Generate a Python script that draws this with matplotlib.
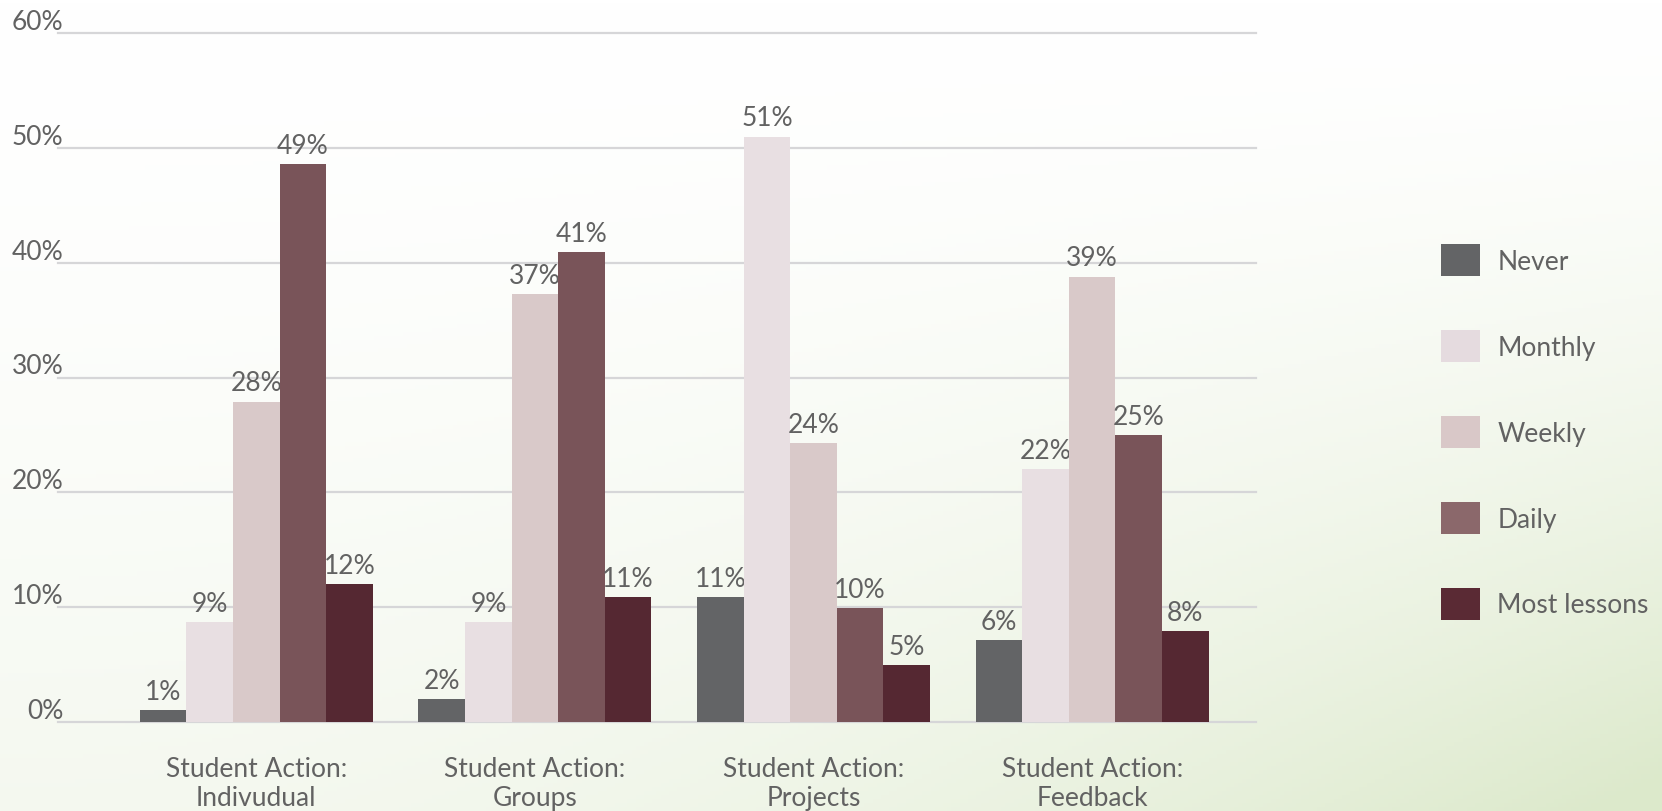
import numpy as np
import matplotlib
matplotlib.use("Agg")
import matplotlib.pyplot as plt
from matplotlib.patches import Patch
from matplotlib.transforms import ScaledTranslation

plt.rcParams['font.family'] = ['Lato', 'DejaVu Sans']

# ---- data ----
categories = ["Student Action:\nIndivudual", "Student Action:\nGroups",
              "Student Action:\nProjects", "Student Action:\nFeedback"]
series = ["Never", "Monthly", "Weekly", "Daily", "Most lessons"]
never = [1.0, 2.0, 10.9, 7.1]
monthly = [8.7, 8.7, 51.0, 22.0]
weekly = [27.9, 37.3, 24.3, 38.8]
daily = [48.6, 40.9, 9.9, 25.0]
most_lessons = [12.0, 10.9, 4.9, 7.9]
value_labels = [
    ["1%", "2%", "11%", "6%"],
    ["9%", "9%", "51%", "22%"],
    ["28%", "37%", "24%", "39%"],
    ["49%", "41%", "10%", "25%"],
    ["12%", "11%", "5%", "8%"],
]
y_ticks = [0, 10, 20, 30, 40, 50, 60]
y_tick_labels = ["0%", "10%", "20%", "30%", "40%", "50%", "60%"]

bar_colors = ["#636466", "#e8dfe2", "#d9c9c9", "#795459", "#552832"]
legend_colors = ["#636466", "#e5dbdf", "#d9c8c8", "#8b686b", "#5a2a34"]
text_color = "#626262"
FS = 19

W, H = 1662, 812
fig = plt.figure(figsize=(W / 100, H / 100), dpi=100)

# background gradient
bg = fig.add_axes([0, 0, 1, 1], zorder=-10)
xs = np.linspace(0, 1, 400)
ys = np.linspace(0, 1, 200)
X, Y = np.meshgrid(xs, ys)
w = np.clip((Y ** 1.5) * (0.3 + 0.75 * X ** 2.0), 0, 1)
green = np.array([220, 233, 203]) / 255.0
white = np.array([1.0, 1.0, 1.0])
img = white[None, None, :] * (1 - w[..., None]) + green[None, None, :] * w[..., None]
bg.imshow(img, extent=[0, 1, 0, 1], origin="upper", aspect="auto")
bg.set_axis_off()

ax = fig.add_axes([58.3 / W, 1 - 722.7 / H, (1256 - 58.3) / W, (722.7 - 34.3) / H])
ax.patch.set_alpha(0)

x = np.arange(len(categories))
bw = 0.1672
data = [never, monthly, weekly, daily, most_lessons]
for i, (vals, col, labs) in enumerate(zip(data, bar_colors, value_labels)):
    pos = x + (i - 2) * bw
    bars = ax.bar(pos, vals, width=bw, color=col, zorder=3, linewidth=0)
    for b, lab in zip(bars, labs):
        ax.annotate(lab, (b.get_x() + b.get_width() / 2, b.get_height()),
                    xytext=(0, 8), textcoords="offset points",
                    ha="center", va="baseline", fontsize=FS, color=text_color)

ax.set_xlim(-0.7106, 3.588)
ax.set_ylim(0, 60)
ax.set_yticks(y_ticks)
ax.set_yticklabels(y_tick_labels)
ax.set_xticks(x)
ax.set_xticklabels(categories, fontsize=FS, color=text_color, linespacing=1.2)
ax.tick_params(axis="x", length=0, pad=25)
ax.tick_params(axis="y", length=0, pad=0, labelsize=FS, labelcolor=text_color)
off = ScaledTranslation(5 / 100, 14 / 100, fig.dpi_scale_trans)
for lab in ax.get_yticklabels():
    lab.set_transform(lab.get_transform() + off)
for s in ax.spines.values():
    s.set_visible(False)
ax.set_axisbelow(True)
ax.yaxis.grid(True, color="#d6d6d8", linewidth=1.6)
for gl in ax.get_ygridlines():
    gl.set_clip_on(False)

handles = [Patch(facecolor=c, edgecolor="none", label=s) for c, s in zip(legend_colors, series)]
fs_px = FS * 100 / 72
leg = fig.legend(handles=handles, loc="upper left",
                 bbox_to_anchor=(1441 / W, 1 - 245 / H), frameon=False,
                 fontsize=FS, handlelength=39 / fs_px, handleheight=39 / fs_px,
                 handletextpad=17.3 / fs_px, labelspacing=(85.75 - 39 + 7.4) / fs_px,
                 borderpad=0, borderaxespad=0)
for t in leg.get_texts():
    t.set_color(text_color)

fig.savefig("out.png", dpi=100)
